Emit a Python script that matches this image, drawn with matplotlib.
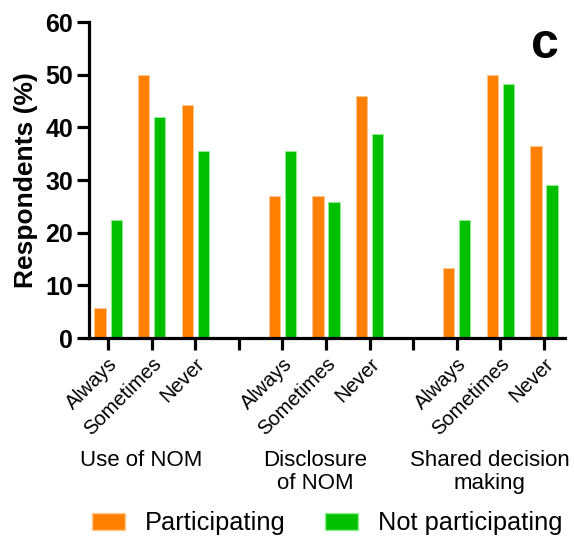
import numpy as np
import matplotlib.pyplot as plt
from matplotlib.patches import Patch

plt.rcParams['font.family'] = 'Liberation Sans'
plt.rcParams['figure.dpi'] = 100

# Survey responses (% of respondents)
groups = ['Use of NOM', 'Disclosure\nof NOM', 'Shared decision\nmaking']
answers = ['Always', 'Sometimes', 'Never']
participating = [5.8, 50.0, 44.2, 26.9, 26.9, 46.0, 13.4, 50.0, 36.4]
not_participating = [22.5, 42.0, 35.5, 35.5, 25.8, 38.7, 22.5, 48.2, 29.0]

c_part = '#FF8000'
c_not = '#00C000'

# three categories per group, one empty slot between groups
pos = []
for g in range(len(groups)):
    for a in range(len(answers)):
        pos.append(g * 4 + a)
pos = np.array(pos)

fig = plt.figure(figsize=(5.74, 5.41))
ax = fig.add_axes([0.155, 0.375, 0.829, 0.584])

w = 0.26
ax.bar(pos - 0.185, participating, w, color=c_part, edgecolor='#FFC890', linewidth=0.6)
ax.bar(pos + 0.185, not_participating, w, color=c_not, edgecolor='#90F090', linewidth=0.6)

ax.set_xlim(-0.44, 10.48)
ax.set_ylim(0, 60)
ax.set_yticks(np.arange(0, 61, 10))
ax.set_xticks(np.arange(0, 11), minor=False)
ax.set_xticklabels(['' if i % 4 == 3 else answers[i % 4] for i in range(11)],
                   rotation=45, ha='right', rotation_mode='anchor', fontsize=14.5)

for s in ['top', 'right']:
    ax.spines[s].set_visible(False)
for s in ['left', 'bottom']:
    ax.spines[s].set_linewidth(2.3)
ax.tick_params(axis='both', width=2.3, length=8.5, pad=3)
ax.tick_params(axis='y', labelsize=18)
for lab in ax.get_yticklabels():
    lab.set_fontweight('bold')
ax.set_ylabel('Respondents (%)', fontsize=19, fontweight='bold', labelpad=5)

# group names under the rotated answer labels
trans = ax.get_xaxis_transform()
for g, name in enumerate(groups):
    ax.text(g * 4 + 1 - 0.25, -0.355, name, transform=trans, ha='center', va='top',
            fontsize=16, linespacing=1.1)

fig.text(0.95, 0.917, 'c', fontsize=36, fontweight='bold', ha='center', va='center')

handles = [Patch(facecolor=c_part, edgecolor='#FFC890'),
           Patch(facecolor=c_not, edgecolor='#90F090')]
fig.legend(handles, ['Participating', 'Not participating'], loc='center left',
           bbox_to_anchor=(0.160, 0.033), ncol=2, frameon=False, fontsize=18.3,
           borderpad=0, borderaxespad=0,
           handlelength=1.3, handleheight=0.67, handletextpad=0.78, columnspacing=1.55)

fig.savefig('out.png', dpi=100)
